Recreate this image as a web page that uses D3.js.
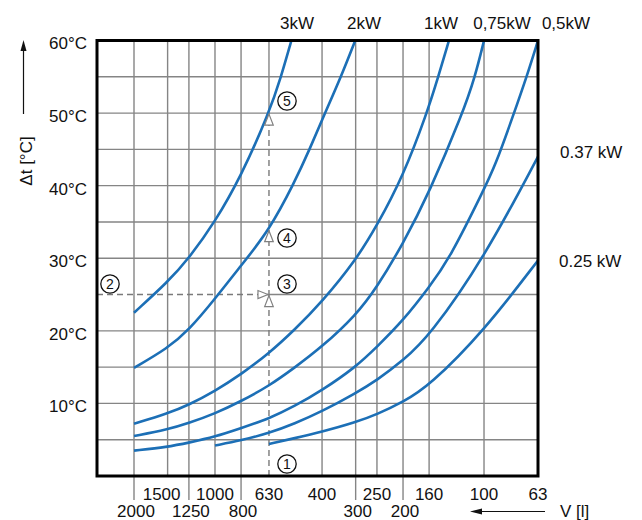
<!DOCTYPE html>
<html>
<head>
<meta charset="utf-8">
<script src="https://cdn.jsdelivr.net/npm/d3@7"></script>
<style>
  body { margin: 0; background: #fff; }
  text { font-family: "Liberation Sans", Arial, Helvetica, sans-serif; fill: #111; }
</style>
</head>
<body>
<div id="chart"></div>
<script>
// x axis: volume V [l], reversed log scale
var gridVolumes = [2000, 1500, 1250, 1000, 800, 630, 400, 300, 250, 200, 160, 100, 63];
var upperRowLabels = [1500, 1000, 630, 400, 250, 160, 100, 63];
var lowerRowLabels = [2000, 1250, 800, 300, 200];
// y axis: Δt [°C]
var tempGrid = [5, 10, 15, 20, 25, 30, 35, 40, 45, 50, 55];
var tempLabels = [10, 20, 30, 40, 50, 60];

var powerLabels = ["3kW", "2kW", "1kW", "0,75kW", "0,5kW", "0.37 kW", "0.25 kW"];

// [V, Δt]
var curve3kW = [[2000, 22.5], [1500, 26.7], [1250, 30], [1000, 35], [800, 41.3], [630, 50], [568, 55], [520, 60]];
var curve2kW = [[2000, 14.9], [1500, 17.6], [1250, 20.1], [1000, 24.4], [800, 29.0], [630, 33.8], [507, 40.4], [445, 45], [390, 50], [340, 55], [301, 60]];
var curve1kW = [[2000, 7.2], [1500, 8.6], [1250, 9.8], [1000, 11.7], [800, 14.0], [630, 16.9], [507, 20.1], [400, 24.0], [300, 29.7], [250, 34.5], [200, 41.3], [163, 50], [148, 55], [135, 60]];
var curve075kW = [[2000, 5.5], [1500, 6.4], [1250, 7.3], [1000, 8.6], [800, 10.3], [630, 12.4], [507, 14.9], [400, 17.8], [300, 22.1], [250, 26.0], [200, 32.0], [160, 39.0], [120, 50], [108, 55], [100, 60]];
var curve05kW = [[2000, 3.5], [1500, 4.0], [1250, 4.6], [1000, 5.4], [800, 6.6], [630, 7.9], [507, 9.6], [400, 11.8], [300, 15.0], [250, 17.8], [200, 21.4], [160, 26.0], [134, 30], [100, 39.5], [91, 42.7], [78, 49.6], [69, 55.3], [63, 60]];
var curve037kW = [[1000, 4.2], [800, 4.9], [630, 5.9], [507, 7.2], [400, 8.9], [300, 11.4], [250, 13.2], [200, 15.9], [160, 19.2], [100, 30], [63, 44]];
var curve025kW = [[630, 4.4], [507, 5.2], [400, 6.1], [300, 7.4], [250, 8.5], [200, 10.2], [160, 12.4], [100, 20], [63, 29.7]];

var curves = [curve3kW, curve2kW, curve1kW, curve075kW, curve05kW, curve037kW, curve025kW];

// reading example: 2000 l at 25 °C, go to 630 l, up to the curves
var exampleVolume = 630;
var exampleTemp = 25;
var exampleHits = [33.8, 50];

var svgWidth = 642;
var svgHeight = 520;
var frame = { left: 97, right: 538, top: 40.5, bottom: 476 };

var svg = d3.select("#chart")
  .append("svg")
  .attr("width", svgWidth)
  .attr("height", svgHeight);

var x = d3.scaleLog()
  .domain([2000, 63])
  .range([134, 538]);

var y = d3.scaleLinear()
  .domain([0, 60])
  .range([frame.bottom, frame.top]);

var gridColor = "#858585";
var blue = "#1c6fb6";

// grid
var grid = svg.append("g").attr("stroke", gridColor).attr("stroke-width", 1.4);

grid.selectAll("line.v")
  .data(gridVolumes.filter(d => d !== exampleVolume))
  .enter().append("line")
  .attr("x1", d => x(d)).attr("x2", d => x(d))
  .attr("y1", frame.top).attr("y2", frame.bottom);

grid.selectAll("line.h")
  .data(tempGrid.filter(d => d !== exampleTemp))
  .enter().append("line")
  .attr("x1", frame.left).attr("x2", frame.right)
  .attr("y1", d => y(d)).attr("y2", d => y(d));

// solid parts of the example lines
grid.append("line")
  .attr("x1", x(exampleVolume)).attr("x2", x(exampleVolume))
  .attr("y1", frame.top).attr("y2", y(exampleHits[1]));
grid.append("line")
  .attr("x1", x(exampleVolume)).attr("x2", frame.right)
  .attr("y1", y(exampleTemp)).attr("y2", y(exampleTemp));

// dashed parts
var dashed = svg.append("g")
  .attr("stroke", "#7a7a7a")
  .attr("stroke-width", 1.4)
  .attr("stroke-dasharray", "6,4");
dashed.append("line")
  .attr("x1", frame.left).attr("x2", x(exampleVolume))
  .attr("y1", y(exampleTemp)).attr("y2", y(exampleTemp));
dashed.append("line")
  .attr("x1", x(exampleVolume)).attr("x2", x(exampleVolume))
  .attr("y1", frame.bottom).attr("y2", y(exampleHits[1]));

// long ticks under the frame for the lower label row
svg.append("g").attr("stroke", gridColor).attr("stroke-width", 1.4)
  .selectAll("line")
  .data(lowerRowLabels)
  .enter().append("line")
  .attr("x1", d => x(d)).attr("x2", d => x(d))
  .attr("y1", frame.bottom).attr("y2", frame.bottom + 24);

// curves
var line = d3.line()
  .x(d => x(d[0]))
  .y(d => y(d[1]))
  .curve(d3.curveBasis);

svg.append("g")
  .selectAll("path")
  .data(curves)
  .enter().append("path")
  .attr("d", line)
  .attr("fill", "none")
  .attr("stroke", blue)
  .attr("stroke-width", 2.6);

// open arrow heads on the example lines
var arrows = svg.append("g")
  .attr("fill", "#fff")
  .attr("stroke", "#808080")
  .attr("stroke-width", 1.2);
var ax = x(exampleVolume);
function upArrow(ty) {
  arrows.append("path")
    .attr("d", `M${ax},${ty} L${ax - 4.3},${ty + 11} L${ax + 4.3},${ty + 11} Z`);
}
arrows.append("path")
  .attr("d", `M${ax - 1},${y(exampleTemp)} L${ax - 11},${y(exampleTemp) - 4} L${ax - 11},${y(exampleTemp) + 4} Z`);
upArrow(y(exampleTemp) + 1);
upArrow(y(exampleHits[0]));
upArrow(y(exampleHits[1]) + 1);

// frame
svg.append("rect")
  .attr("x", frame.left).attr("y", frame.top)
  .attr("width", frame.right - frame.left)
  .attr("height", frame.bottom - frame.top)
  .attr("fill", "none")
  .attr("stroke", "#000")
  .attr("stroke-width", 3);

// y labels
svg.append("g")
  .selectAll("text")
  .data(tempLabels)
  .enter().append("text")
  .attr("x", 87)
  .attr("y", d => y(d) + 3)
  .attr("dy", "0.35em")
  .attr("text-anchor", "end")
  .attr("font-size", 17)
  .text(d => d + "°C");

// x labels
svg.append("g")
  .selectAll("text")
  .data(upperRowLabels)
  .enter().append("text")
  .attr("x", d => d === 1500 ? x(d) - 6 : x(d))
  .attr("y", 500)
  .attr("text-anchor", "middle")
  .attr("font-size", 17)
  .text(d => d);

svg.append("g")
  .selectAll("text")
  .data(lowerRowLabels)
  .enter().append("text")
  .attr("x", d => x(d) + 2)
  .attr("y", 517)
  .attr("text-anchor", "middle")
  .attr("font-size", 17)
  .text(d => d);

// power labels
var topLabelX = [297, 364, 441, 502, 566];
svg.append("g")
  .selectAll("text")
  .data(powerLabels.slice(0, 5))
  .enter().append("text")
  .attr("x", (d, i) => topLabelX[i])
  .attr("y", 29)
  .attr("text-anchor", "middle")
  .attr("font-size", 17)
  .text(d => d);

svg.append("text")
  .attr("x", 560).attr("y", y(44) + 1)
  .attr("font-size", 17)
  .text(powerLabels[5]);
svg.append("text")
  .attr("x", 559).attr("y", y(29.7) + 7)
  .attr("font-size", 17)
  .text(powerLabels[6]);

// circled step numbers
var steps = [
  { n: "1", cx: 287, cy: 464 },
  { n: "2", cx: 110, cy: 284 },
  { n: "3", cx: 287, cy: 284 },
  { n: "4", cx: 287, cy: 238 },
  { n: "5", cx: 287, cy: 101 }
];
var stepG = svg.append("g").selectAll("g")
  .data(steps)
  .enter().append("g")
  .attr("transform", d => `translate(${d.cx},${d.cy})`);
stepG.append("circle")
  .attr("r", 9.2)
  .attr("fill", "#fff")
  .attr("stroke", "#111")
  .attr("stroke-width", 1.3);
stepG.append("text")
  .attr("text-anchor", "middle")
  .attr("dy", "0.36em")
  .attr("font-size", 14)
  .text(d => d.n);

// axis titles with arrows
svg.append("text")
  .attr("transform", "translate(32,161) rotate(-90)")
  .attr("text-anchor", "middle")
  .attr("font-size", 17)
  .text("Δt [°C]");
svg.append("line")
  .attr("x1", 23.5).attr("x2", 23.5)
  .attr("y1", 114).attr("y2", 48)
  .attr("stroke", "#111").attr("stroke-width", 1.2);
svg.append("path")
  .attr("d", "M23.5,40 L20.5,51 L26.5,51 Z")
  .attr("fill", "#111");

svg.append("text")
  .attr("x", 560).attr("y", 517)
  .attr("font-size", 17)
  .text("V [l]");
svg.append("line")
  .attr("x1", 545).attr("x2", 480)
  .attr("y1", 511.5).attr("y2", 511.5)
  .attr("stroke", "#111").attr("stroke-width", 1.2);
svg.append("path")
  .attr("d", "M470,511.5 L482,508.5 L482,514.5 Z")
  .attr("fill", "#111");
</script>
</body>
</html>
